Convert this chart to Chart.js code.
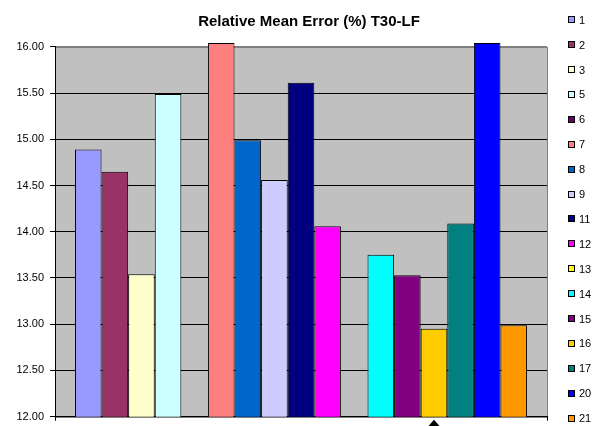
<!DOCTYPE html>
<html>
<head>
<meta charset="utf-8">
<script src="https://cdn.jsdelivr.net/npm/chart.js@4/dist/chart.umd.min.js"></script>
<style>
  html, body { margin: 0; padding: 0; background: #fff; overflow: hidden; }
  #wrap { position: relative; width: 592px; height: 426px; overflow: hidden; }
  #chart { position: absolute; left: 0; top: 0; }
  #legend { position: absolute; left: 568px; top: 7.25px; margin: 0; padding: 0; list-style: none;
            font: 11px Arial, "Liberation Sans", sans-serif; color: #000; }
  #legend li { height: 24.91px; display: flex; align-items: center; }
  #legend .box { width: 7px; height: 7px; box-sizing: border-box; border: 1px solid #000; margin-right: 4px; }
</style>
</head>
<body>
<div id="wrap">
  <canvas id="chart" width="618" height="426"></canvas>
  <ul id="legend"></ul>
</div>
<script>
// Relative mean error (%) of each run, one bar per run
const chartTitle = 'Relative Mean Error (%) T30-LF';
const categories = ['T30-LF'];
const runLabels = ['1', '2', '3', '5', '6', '7', '8', '9', '11', '12', '13', '14', '15', '16', '17', '20', '21'];
const runErrors = [14.89, 14.65, 13.54, 15.49, 11.80, 16.04, 14.99, 14.56, 15.61, 14.06, 11.80, 13.75, 13.53, 12.95, 14.09, 16.04, 12.99];
const runColors = ['#9999FF', '#993366', '#FFFFCC', '#CCFFFF', '#660066', '#FF8080', '#0066CC', '#CCCCFF',
                   '#000080', '#FF00FF', '#FFFF00', '#00FFFF', '#800080', '#FFCC00', '#008080', '#0000FF', '#FF9900'];
const yTicks = [12, 12.5, 13, 13.5, 14, 14.5, 15, 15.5, 16];
const markedRun = '16';

const datasets = runLabels.map((label, i) => ({
  label: label,
  data: [runErrors[i]],
  backgroundColor: runColors[i],
  borderColor: '#000',
  borderWidth: 1,
  // bars taller than the axis poke a few pixels over the top edge
  clip: runErrors[i] > yTicks[yTicks.length - 1] ? { left: 0, right: 0, bottom: 0, top: 6 } : 0
}));

// grey plot area with a thin grey frame
const plotBackground = {
  id: 'plotBackground',
  beforeDraw(chart) {
    const { ctx, chartArea: a } = chart;
    ctx.save();
    ctx.fillStyle = '#C0C0C0';
    ctx.fillRect(a.left, a.top, a.right - a.left, a.bottom - a.top);
    ctx.strokeStyle = '#808080';
    ctx.lineWidth = 1;
    ctx.strokeRect(Math.round(a.left) + 0.5, Math.round(a.top) + 0.5, Math.round(a.right - a.left), Math.round(a.bottom - a.top));
    ctx.restore();
  }
};

// title centred on the whole chart, legend column included
const centredTitle = {
  id: 'centredTitle',
  afterDraw(chart) {
    const { ctx } = chart;
    ctx.save();
    ctx.fillStyle = '#000';
    ctx.font = 'bold 15px Arial, "Liberation Sans", sans-serif';
    ctx.textAlign = 'center';
    ctx.textBaseline = 'middle';
    ctx.fillText(chartTitle, chart.width / 2, 21.5);
    ctx.restore();
  }
};

// small black arrow under the marked run
const runMarker = {
  id: 'runMarker',
  afterDraw(chart) {
    const idx = runLabels.indexOf(markedRun);
    const bar = chart.getDatasetMeta(idx).data[0];
    if (!bar) return;
    const { ctx, chartArea: a } = chart;
    const x = Math.round(bar.x);
    const y = a.bottom + 3;
    ctx.save();
    ctx.fillStyle = '#000';
    ctx.beginPath();
    ctx.moveTo(x, y);
    ctx.lineTo(x - 7, y + 8);
    ctx.lineTo(x + 7, y + 8);
    ctx.closePath();
    ctx.fill();
    ctx.restore();
  }
};

const chart = new Chart(document.getElementById('chart'), {
  type: 'bar',
  data: { labels: categories, datasets: datasets },
  options: {
    responsive: false,
    animation: false,
    devicePixelRatio: 1,
    layout: { padding: { left: 10.5, right: 71, top: 46.8, bottom: 5.2 } },
    datasets: { bar: { categoryPercentage: 17 / 18.5, barPercentage: 1 } },
    plugins: {
      legend: { display: false },
      tooltip: { enabled: false },
      title: { display: false }
    },
    scales: {
      x: {
        ticks: { display: false },
        border: { display: true, color: '#000', width: 1 },
        grid: { display: true, drawOnChartArea: false, drawTicks: true, tickLength: 4, color: '#000', offset: true }
      },
      y: {
        min: yTicks[0],
        max: yTicks[yTicks.length - 1],
        afterBuildTicks(scale) { scale.ticks = yTicks.map(v => ({ value: v })); },
        ticks: {
          color: '#000',
          padding: 6,
          font: { family: 'Arial, "Liberation Sans", sans-serif', size: 11, lineHeight: 0.6 },
          callback: v => Number(v).toFixed(2)
        },
        border: { display: true, color: '#000', width: 1 },
        grid: {
          color: ctx => (ctx.tick && ctx.tick.value === yTicks[yTicks.length - 1]) ? '#808080' : '#000',
          tickColor: '#000',
          tickLength: 5,
          drawTicks: true
        }
      }
    }
  },
  plugins: [plotBackground, centredTitle, runMarker]
});

// legend list built from the chart's own datasets
const legendEl = document.getElementById('legend');
chart.data.datasets.forEach(ds => {
  const li = document.createElement('li');
  const box = document.createElement('span');
  box.className = 'box';
  box.style.background = ds.backgroundColor;
  const txt = document.createElement('span');
  txt.textContent = ds.label;
  li.appendChild(box);
  li.appendChild(txt);
  legendEl.appendChild(li);
});
</script>
</body>
</html>
